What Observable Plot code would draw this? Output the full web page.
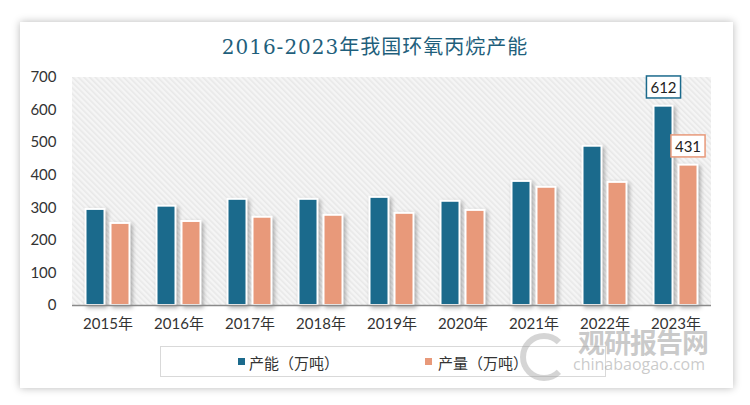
<!DOCTYPE html>
<html><head><meta charset="utf-8">
<script src="https://cdn.jsdelivr.net/npm/d3@7"></script>
<script src="https://cdn.jsdelivr.net/npm/@observablehq/plot@0.6"></script>
<style>
body{margin:0;width:750px;height:405px;background:#fff;position:relative;overflow:hidden;font-family:Lato,"Noto Sans CJK SC",sans-serif;}
#card{position:absolute;left:20px;top:22px;width:713px;height:366px;background:#fff;box-shadow:0 0 8px rgba(0,0,0,.28);}
#title{position:absolute;left:0;top:31px;width:750px;text-align:center;font-size:20px;color:#1f5f7c;letter-spacing:1px;font-family:"DejaVu Serif","Noto Sans CJK SC",serif;}
#chart{position:absolute;left:0;top:0;}
#legend{position:absolute;left:160px;top:346px;width:446px;height:31px;border:1px solid #d9d9d9;background:#fff;box-sizing:border-box;}
.li{position:absolute;top:5px;font-size:15px;color:#333;font-family:"Noto Sans CJK SC",sans-serif;}
.sw{position:absolute;top:11px;width:7px;height:7px;}
#wm1{position:absolute;left:578px;top:322px;font-size:27px;font-weight:bold;color:rgba(150,150,150,.5);font-family:"Noto Sans CJK SC",sans-serif;letter-spacing:-1px;z-index:5;}
#wm2{position:absolute;left:573px;top:353px;font-size:16px;color:rgba(150,150,150,.5);font-family:"Open Sans",sans-serif;z-index:5;}
#wm3{position:absolute;left:520px;top:333px;width:36px;height:36px;border-radius:50%;border:6px solid rgba(150,150,150,.4);border-right-color:transparent;z-index:5;}
</style></head>
<body>
<div id="card"></div>
<div id="title">2016-2023年我国环氧丙烷产能</div>
<div id="chart"></div>
<div id="legend"></div>
<div id="wm3"></div><div id="wm1">观研报告网</div><div id="wm2">chinabaogao.com</div>
<script>
const years = ["2015年","2016年","2017年","2018年","2019年","2020年","2021年","2022年","2023年"];
const capacity = [295, 305, 326, 326, 332, 320, 381, 489, 612];
const output = [252, 258, 271, 277, 283, 292, 363, 378, 431];
const seriesNames = ["产能（万吨）", "产量（万吨）"];
const colors = ["#1b6a8c", "#e8997a"];
const yTicks = [0, 100, 200, 300, 400, 500, 600, 700];
const labelYear = "2023年";

const capData = years.map((y, i) => ({year: y, series: seriesNames[0], value: capacity[i]}));
const outData = years.map((y, i) => ({year: y, series: seriesNames[1], value: output[i]}));

function background(index, scales, values, dimensions) {
  const g = d3.create("svg:g");
  const defs = g.append("defs");
  const p = defs.append("pattern").attr("id", "hatch").attr("patternUnits", "userSpaceOnUse")
    .attr("width", 4).attr("height", 4).attr("patternTransform", "rotate(-45)");
  p.append("rect").attr("width", 4).attr("height", 4).attr("fill", "#f5f5f5");
  p.append("rect").attr("width", 1.6).attr("height", 4).attr("fill", "#e8e8e8");
  const x0 = dimensions.marginLeft, x1 = dimensions.width - dimensions.marginRight;
  const y0 = scales.y(700), y1 = scales.y(0);
  g.append("rect").attr("x", x0).attr("y", y0).attr("width", x1 - x0).attr("height", y1 - y0).attr("fill", "url(#hatch)");
  return g.node();
}

const plot = Plot.plot({
  width: 750, height: 340,
  marginTop: 77, marginBottom: 35, marginLeft: 72, marginRight: 39,
  style: {background: "transparent", fontFamily: "Lato, 'Noto Sans CJK SC', sans-serif", fontSize: "15px", color: "#333"},
  x: {domain: years, padding: 0, label: null, tickSize: 0, tickPadding: 13},
  y: {domain: [0, 700], ticks: yTicks, label: null, tickSize: 0, tickPadding: 16},
  color: {domain: seriesNames, range: colors},
  marks: [
    background,
    Plot.barY(capData, {x: "year", y: "value", fill: "series", stroke: "white", strokeWidth: 2, insetLeft: 13.5, insetRight: 38.5}),
    Plot.barY(outData, {x: "year", y: "value", fill: "series", stroke: "white", strokeWidth: 2, insetLeft: 38.5, insetRight: 13.5}),
    Plot.ruleY([0], {stroke: "#8a8a8a", strokeWidth: 1.5}),
    Plot.text(capData.filter(d => d.year === labelYear), {x: "year", y: "value", text: d => String(d.value), dx: -12.5, dy: -18, fill: "#222", fontSize: 15}),
    Plot.text(outData.filter(d => d.year === labelYear), {x: "year", y: "value", text: d => String(d.value), dx: 12, dy: -18, fill: "#222", fontSize: 15})
  ]
});
document.getElementById("chart").appendChild(plot);

// shadows on bars
plot.querySelectorAll("g[aria-label='bar']").forEach(g => g.style.filter = "drop-shadow(2px 2px 2px rgba(0,0,0,0.3))");
// boxes around value labels
plot.querySelectorAll("g[aria-label='text']").forEach((g, k) => {
  g.querySelectorAll("text").forEach(t => {
    const b = t.getBBox();
    const r = document.createElementNS("http://www.w3.org/2000/svg", "rect");
    r.setAttribute("x", b.x - 4); r.setAttribute("y", b.y - 2);
    r.setAttribute("width", b.width + 8); r.setAttribute("height", b.height + 4);
    r.setAttribute("fill", "white"); r.setAttribute("stroke", colors[k]); r.setAttribute("stroke-width", 1.5);
    const tr = t.getAttribute("transform");
    if (tr) r.setAttribute("transform", tr);
    g.insertBefore(r, t);
  });
});

// legend
const lg = document.getElementById("legend");
const pos = [[77, 88], [264, 277]];
seriesNames.forEach((s, i) => {
  const sw = document.createElement("div"); sw.className = "sw"; sw.style.left = pos[i][0] + "px"; sw.style.background = colors[i]; lg.appendChild(sw);
  const t = document.createElement("div"); t.className = "li"; t.style.left = pos[i][1] + "px"; t.textContent = s; lg.appendChild(t);
});
</script>
</body></html>
